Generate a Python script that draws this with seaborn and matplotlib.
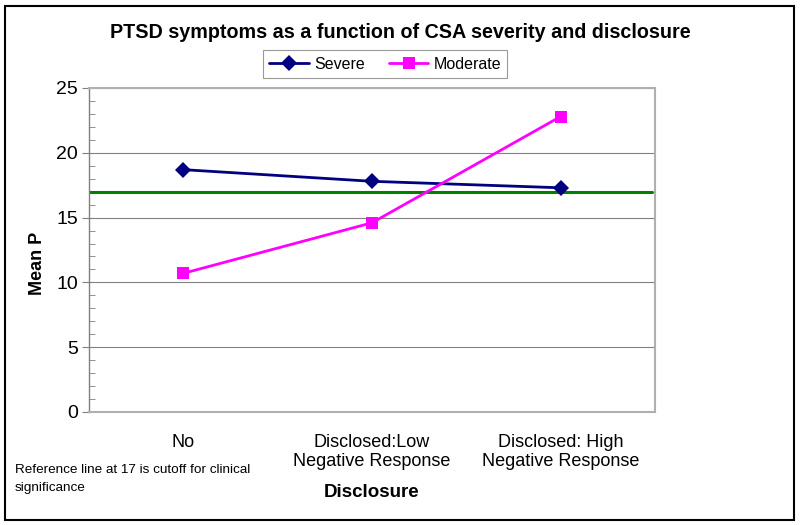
import matplotlib
matplotlib.use('Agg')
import matplotlib.pyplot as plt
import pandas as pd
import seaborn as sns
from matplotlib.patches import Rectangle
from matplotlib.ticker import MultipleLocator

#%% data
disclosure = ['No', 'Disclosed:Low\nNegative Response', 'Disclosed: High\nNegative Response']
severe = [18.7, 17.8, 17.3]
moderate = [10.7, 14.6, 22.8]
cutoff = 17

df = pd.DataFrame({'Disclosure': disclosure * 2,
                   'Mean': severe + moderate,
                   'Group': ['Severe'] * 3 + ['Moderate'] * 3})

#%% plot
sns.set_style('white')
plt.rcParams['font.family'] = ['Liberation Sans', 'DejaVu Sans']
plt.rcParams['text.color'] = 'black'
plt.rcParams['xtick.labelcolor'] = 'black'
plt.rcParams['ytick.labelcolor'] = 'black'
plt.rcParams['axes.labelcolor'] = 'black'

fig = plt.figure(figsize=(8, 5.25), dpi=100)
ax = fig.add_axes([89/800, 1 - 412/525, 566/800, 324/525])

sns.lineplot(data=df, x='Disclosure', y='Mean', hue='Group', style='Group',
             palette={'Severe': '#000080', 'Moderate': '#FF00FF'},
             markers={'Severe': 'D', 'Moderate': 's'}, dashes=False,
             markersize=8.5, linewidth=2, markeredgewidth=0, sort=False, ax=ax)
ax.axhline(cutoff, xmin=0, xmax=0.995, color='#008000', linewidth=2.2, zorder=1.5)

ax.set_xlim(-0.5, 2.5)
ax.set_ylim(0, 25)
ax.yaxis.set_major_locator(MultipleLocator(5))
ax.yaxis.set_minor_locator(MultipleLocator(1))
ax.grid(axis='y', color='#808080', linewidth=0.8)
ax.tick_params(axis='y', which='major', left=True, length=5, width=0.8, color='#808080',
               labelsize=14, pad=3)
ax.tick_params(axis='y', which='minor', left=True, direction='in', length=4, width=0.6, color='#808080')
ax.tick_params(axis='x', bottom=False, labelsize=13, pad=12)
for s in ['top', 'right', 'bottom']:
    ax.spines[s].set_color('#B0B0B0')
    ax.spines[s].set_linewidth(1.5)
ax.spines['left'].set_color('#808080')
ax.spines['left'].set_linewidth(1)

ax.set_xlabel('Disclosure', fontsize=13.5, fontweight='bold', labelpad=10)
ax.set_ylabel('')
fig.text(38/800, 1 - 263/525, 'Mean P', rotation=90, fontsize=13, fontweight='bold',
         ha='center', va='center')

fig.text(400/800, 1 - 33/525, 'PTSD symptoms as a function of CSA severity and disclosure',
         ha='center', va='center', fontsize=14.2, fontweight='bold')

leg = ax.legend(loc='center', bbox_to_anchor=(385/800, 1 - 64/525), bbox_transform=fig.transFigure,
                ncol=2, frameon=True, fancybox=False, fontsize=11.5, handlelength=2.5,
                columnspacing=1.5, borderpad=0.4, handletextpad=0.3)
leg.get_frame().set_edgecolor('#808080')
leg.get_frame().set_linewidth(0.8)

fig.text(15/800, 1 - 479/525, 'Reference line at 17 is cutoff for clinical\nsignificance',
         ha='left', va='center', fontsize=9.7, linespacing=1.7)

fig.patches.append(Rectangle((5/800, 5/525), 789/800, 514/525, transform=fig.transFigure,
                             fill=False, edgecolor='black', linewidth=1.5))

fig.savefig('out.png', dpi=100)
